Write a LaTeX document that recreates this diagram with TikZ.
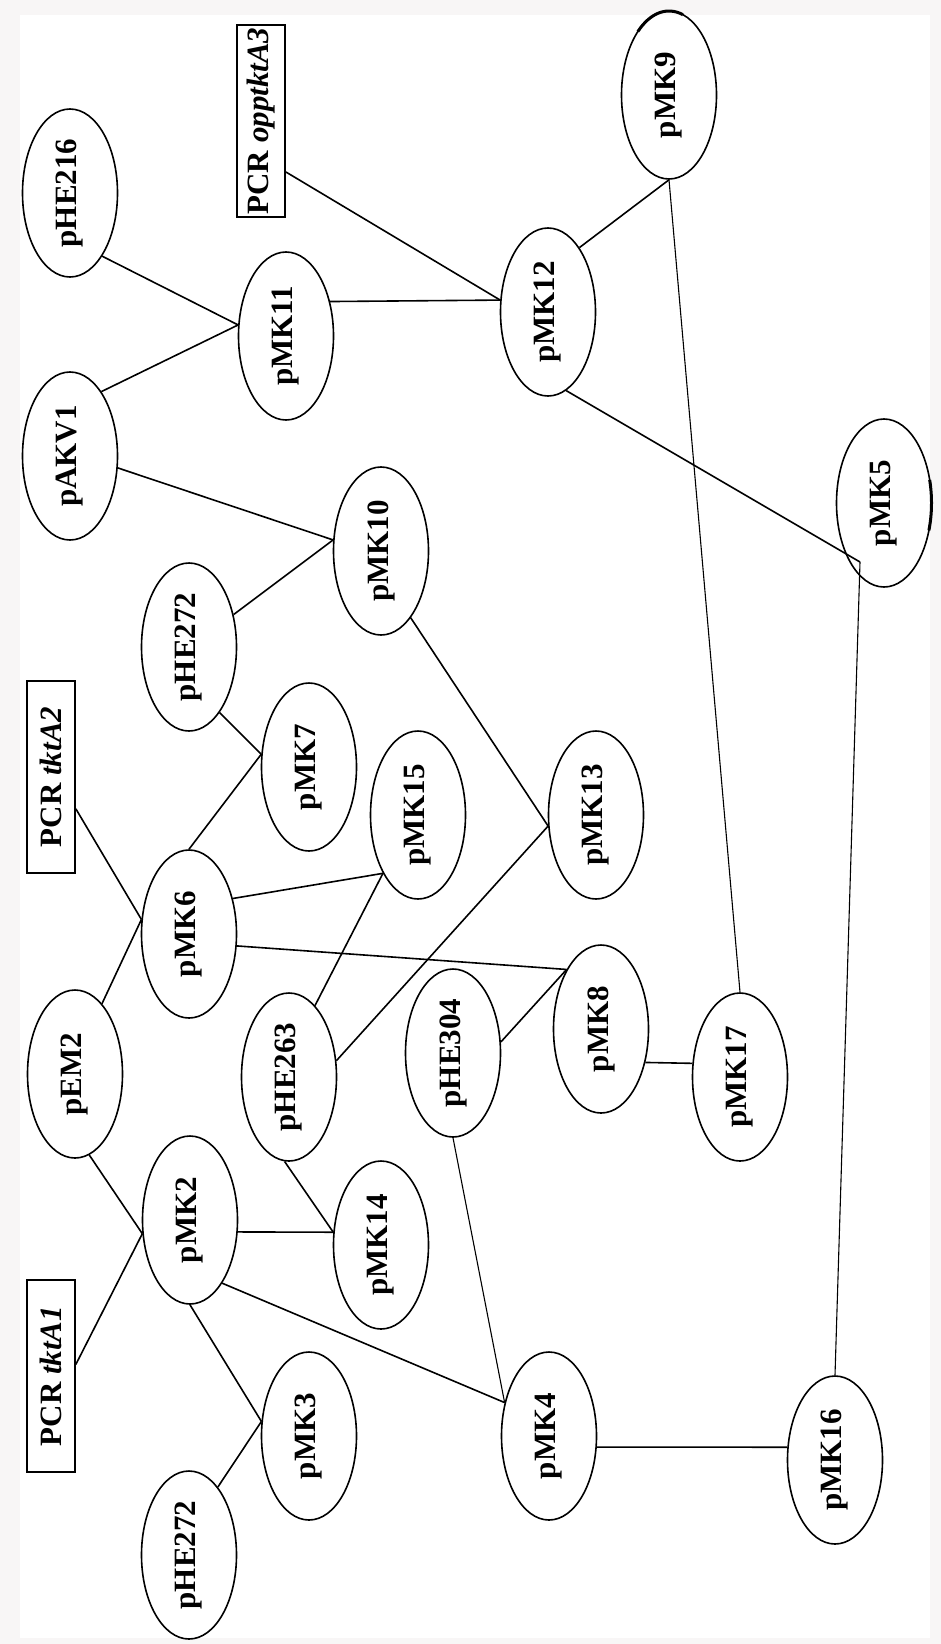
\documentclass[tikz,border=0pt]{standalone}
\usepackage{fontspec}
\setmainfont{Liberation Serif}
\usepackage{graphicx}
\usetikzlibrary{shapes.geometric,calc}
\definecolor{bgframe}{HTML}{F8F6F6}
\newcommand{\rt}[1]{\rotatebox{90}{#1}}
\tikzset{
  plas/.style={draw, ellipse, line width=1.6pt, minimum width=95pt, minimum height=168pt, inner sep=0pt, font=\fontsize{31}{36}\selectfont\bfseries},
  pcr/.style={draw, rectangle, line width=1.7pt, minimum width=48pt, minimum height=192pt, inner sep=0pt, font=\fontsize{31}{36}\selectfont\bfseries},
  link/.style={line width=1.6pt},
  thinlink/.style={line width=1.1pt},
  blot/.style={line width=3pt}
}
\begin{document}
\begin{tikzpicture}[x=1pt,y=-1pt]
\useasboundingbox (0,0) rectangle (941,1644);
\fill[bgframe] (0,0) rectangle (941,1644);
\fill[white] (20,15) rectangle (930,1638);

% nodes
\node[pcr]  (opp)    at (261,121)  {\rt{PCR \textit{opptktA3}}};
\node[plas] (pHE216) at (70,193)   {\rt{pHE216}};
\node[plas] (pMK9)   at (669,95)   {\rt{pMK9}};
\node[plas] (pMK11)  at (286,336)  {\rt{pMK11}};
\node[plas] (pMK12)  at (548,312)  {\rt{pMK12}};
\node[plas] (pAKV1)  at (70,456)   {\rt{pAKV1}};
\node[plas] (pMK10)  at (381,551)  {\rt{pMK10}};
\node[plas] (pMK5)   at (884,503)  {\rt{pMK5}};
\node[plas] (pHEa)   at (189,647)  {\rt{pHE272}};
\node[pcr]  (tkt2)   at (51,777)   {\rt{PCR \textit{tktA2}}};
\node[plas] (pMK7)   at (309,767)  {\rt{pMK7}};
\node[plas] (pMK15)  at (418,815)  {\rt{pMK15}};
\node[plas] (pMK13)  at (596,815)  {\rt{pMK13}};
\node[plas] (pMK6)   at (189,934)  {\rt{pMK6}};
\node[plas] (pEM2)   at (75,1074)  {\rt{pEM2}};
\node[plas] (pHE263) at (289,1077) {\rt{pHE263}};
\node[plas] (pHE304) at (453,1053) {\rt{pHE304}};
\node[plas] (pMK8)   at (601,1029) {\rt{pMK8}};
\node[plas] (pMK17)  at (740,1077) {\rt{pMK17}};
\node[plas] (pMK2)   at (190,1220) {\rt{pMK2}};
\node[plas] (pMK14)  at (381,1245) {\rt{pMK14}};
\node[pcr]  (tkt1)   at (51,1376)  {\rt{PCR \textit{tktA1}}};
\node[plas] (pMK3)   at (309,1436) {\rt{pMK3}};
\node[plas] (pHEb)   at (189,1555) {\rt{pHE272}};
\node[plas] (pMK4)   at (549,1436) {\rt{pMK4}};
\node[plas] (pMK16)  at (835,1460) {\rt{pMK16}};
\coordinate (j5) at ($(pMK5)+(-24,59)$);

% scan blots on two outlines
\draw[blot] ([shift={(pMK5.center)}] -19:47.5pt and 84pt) arc[start angle=-19, end angle=16, x radius=47.5pt, y radius=84pt];
\draw[blot] ([shift={(pMK9.center)}] 73:47.5pt and 84pt) arc[start angle=73, end angle=131, x radius=47.5pt, y radius=84pt];

% connectors
\draw[link] (opp.-64) -- (pMK12.166);
\draw[link] (pHE216.-63) -- (pMK11.167);
\draw[link] (pAKV1.64) -- (pMK11.167);
\draw[link] (pMK11.38) -- (pMK12.166);
\draw[link] (pMK12.64) -- (pMK9.south);
\draw[link] (pMK12.-77) -- (j5);
\draw[thinlink] (j5) -- (pMK16.north);
\draw[thinlink] (pMK9.south) -- (pMK17.north);
\draw[link] (pAKV1.-14) -- (pMK10.167);
\draw[link] (pHEa.36) -- (pMK10.167);
\draw[link] (pHEa.-65) -- (pMK7.165);
\draw[link] (pMK6.north) -- (pMK7.165);
\draw[link] (tkt2.-52) -- (pMK6.163);
\draw[link] (pEM2.69) -- (pMK6.163);
\draw[link] (pMK6.39) -- (pMK15.-121);
\draw[link] (pHE263.70) -- (pMK15.-121);
\draw[link] (pMK6.-14) -- (pMK8.120);
\draw[link] (pHE304.13) -- (pMK8.120);
\draw[link] (pMK10.-66) -- (pMK13.193);
\draw[link] (pHE263.19) -- (pMK13.193);
\draw[link] (pMK8.-37) -- (pMK17.164);
\draw[link] (pEM2.-80) -- (pMK2.196);
\draw[link] (tkt1.25) -- (pMK2.196);
\draw[link] (pMK2.-14) -- (pMK14.165);
\draw[link] (pHE263.-93) -- (pMK14.165);
\draw[link] (pMK2.-63) -- (pMK4.143);
\draw[thinlink] (pHE304.south) -- (pMK4.143);
\draw[link] (pMK2.south) -- (pMK3.163);
\draw[link] (pHEb.67) -- (pMK3.163);
\draw[link] (pMK4.-13) -- (pMK16.165);
\end{tikzpicture}
\end{document}
